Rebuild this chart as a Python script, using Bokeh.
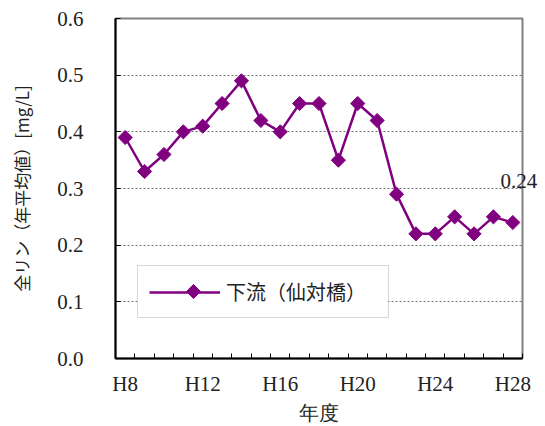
from bokeh.plotting import figure
from bokeh.models import Range1d, FixedTicker, PrintfTickFormatter, Label, Legend, LegendItem, LinearAxis
from bokeh.embed import file_html
from bokeh.resources import INLINE
import math

years = [8, 9, 10, 11, 12, 13, 14, 15, 16, 17, 18, 19, 20, 21, 22, 23, 24, 25, 26, 27, 28]
values = [0.39, 0.33, 0.36, 0.40, 0.41, 0.45, 0.49, 0.42, 0.40, 0.45, 0.45, 0.35,
          0.45, 0.42, 0.29, 0.22, 0.22, 0.25, 0.22, 0.25, 0.24]
label_years = [8, 12, 16, 20, 24, 28]
yticks = [0.0, 0.1, 0.2, 0.3, 0.4, 0.5, 0.6]
series_name = "下流（仙対橋）"
ytitle = "全リン（年平均値）[mg/L]"
xtitle = "年度"

LATIN = "Liberation Serif"
CJK = "Noto Sans CJK JP"
PURPLE = "#800080"
TXT = "#222222"
LAST_LABEL_DY = 0.073   # vertical lift of the last-value label (style)

W, H = 545, 426
BL, BR, BT, BB = 115, 23, 18, 68
FRAME_W, FRAME_H = W - BL - BR, H - BT - BB
LEG_PAD, LEG_GLYPH_W, LEG_STANDOFF, LEG_LABEL_W = 11, 71, 6, 151
LEG_LOC = (22, 40)              # px from frame bottom-left
LEG_W = 2 * LEG_PAD + LEG_GLYPH_W + LEG_STANDOFF + LEG_LABEL_W
LEG_H = 53
SWATCH_PX = (78, 67)            # legend diamond centre, px from frame bottom-left

x0, x1 = years[0] - 0.5, years[-1] + 0.5
y0, y1 = yticks[0], yticks[-1]


def px_to_x(px):
    return x0 + px / FRAME_W * (x1 - x0)


def px_to_y(px):
    return y0 + px / FRAME_H * (y1 - y0)


p = figure(width=W, height=H, output_backend="svg", toolbar_location=None,
           x_range=Range1d(x0, x1), y_range=Range1d(y0, y1),
           min_border_left=BL, min_border_right=BR, min_border_top=BT, min_border_bottom=60)

p.background_fill_color = "white"
p.border_fill_color = "white"
p.outline_line_color = "#808080"
p.outline_line_width = 2

# axes
xa = p.xaxis[0]
xa.ticker = FixedTicker(ticks=label_years, minor_ticks=[y - 0.5 for y in years] + [years[-1] + 0.5])
xa.major_label_overrides = {y: f"H{y}" for y in label_years}
xa.major_tick_line_color = None
xa.minor_tick_in = 5
xa.minor_tick_out = 0
xa.minor_tick_line_color = "black"
xa.axis_line_color = "black"
xa.axis_line_width = 2
xa.major_label_text_font = LATIN
xa.major_label_text_font_size = "21px"
xa.major_label_text_color = TXT
xa.major_label_standoff = 7
xa.axis_label = xtitle
xa.axis_label_text_font = LATIN
xa.axis_label_text_font_size = "20px"
xa.axis_label_text_font_style = "normal"
xa.axis_label_text_color = TXT
xa.axis_label_standoff = 3

ya = p.yaxis[0]
ya.ticker = FixedTicker(ticks=yticks, minor_ticks=[])
ya.formatter = PrintfTickFormatter(format="%.1f")
ya.major_tick_in = 5
ya.major_tick_out = 0
ya.major_tick_line_color = "black"
ya.axis_line_color = "black"
ya.axis_line_width = 2
ya.major_label_text_font = LATIN
ya.major_label_text_font_size = "21px"
ya.major_label_text_color = TXT
ya.major_label_standoff = 32
ya.axis_label = ytitle
ya.axis_label_text_font = CJK
ya.axis_label_text_font_size = "17px"
ya.axis_label_text_font_style = "normal"
ya.axis_label_text_color = TXT
ya.axis_label_standoff = 20

p.xgrid.grid_line_color = None
p.ygrid.ticker = FixedTicker(ticks=yticks[1:-1])
p.ygrid.grid_line_color = "#707070"
p.ygrid.grid_line_dash = "2 2"
p.ygrid.grid_line_width = 1

# series
ln = p.line(years, values, line_color=PURPLE, line_width=2.5)
mk = p.scatter(years, values, marker="square", angle=math.pi / 4, size=10,
               fill_color=PURPLE, line_color=PURPLE)

# legend: white box + diamond swatch as glyphs, then the transparent legend on top
p.quad(left=[px_to_x(LEG_LOC[0])], right=[px_to_x(LEG_LOC[0] + LEG_W)],
       bottom=[px_to_y(LEG_LOC[1])], top=[px_to_y(LEG_LOC[1] + LEG_H)],
       fill_color="white", line_color=None)
p.scatter([px_to_x(SWATCH_PX[0])], [px_to_y(SWATCH_PX[1])], marker="square",
          angle=math.pi / 4, size=10, fill_color=PURPLE, line_color=PURPLE)

legend = Legend(items=[LegendItem(label=series_name, renderers=[ln])],
                location=LEG_LOC, orientation="vertical",
                glyph_width=LEG_GLYPH_W, glyph_height=20, label_standoff=LEG_STANDOFF,
                label_width=LEG_LABEL_W, label_height=17, padding=LEG_PAD, spacing=0, margin=0,
                label_text_font=CJK, label_text_font_size="20px", label_text_color=TXT,
                border_line_color="#b0b0b0", border_line_width=1,
                background_fill_alpha=0.0)
p.add_layout(legend, "center")

# last value label: white knock-out inside the frame + unclipped text via a bare right axis
last_txt = f"{values[-1]:.2f}"
last_y = values[-1] + LAST_LABEL_DY
ko = Label(x=years[-1], y=last_y, text=last_txt, x_offset=-14,
           text_font=LATIN, text_font_size="21px", text_alpha=0.0,
           text_align="left", text_baseline="middle",
           background_fill_color="white", background_fill_alpha=1.0, level="glyph")
p.add_layout(ko)

ra = LinearAxis(ticker=FixedTicker(ticks=[last_y], minor_ticks=[]),
                major_label_overrides={last_y: last_txt})
ra.axis_line_color = None
ra.major_tick_line_color = None
ra.minor_tick_line_color = None
ra.major_tick_in = 0
ra.major_tick_out = 0
ra.major_label_standoff = -22
ra.major_label_text_font = LATIN
ra.major_label_text_font_size = "21px"
ra.major_label_text_color = TXT
p.add_layout(ra, "right")

open("out.html", "w").write(file_html(p, INLINE))
